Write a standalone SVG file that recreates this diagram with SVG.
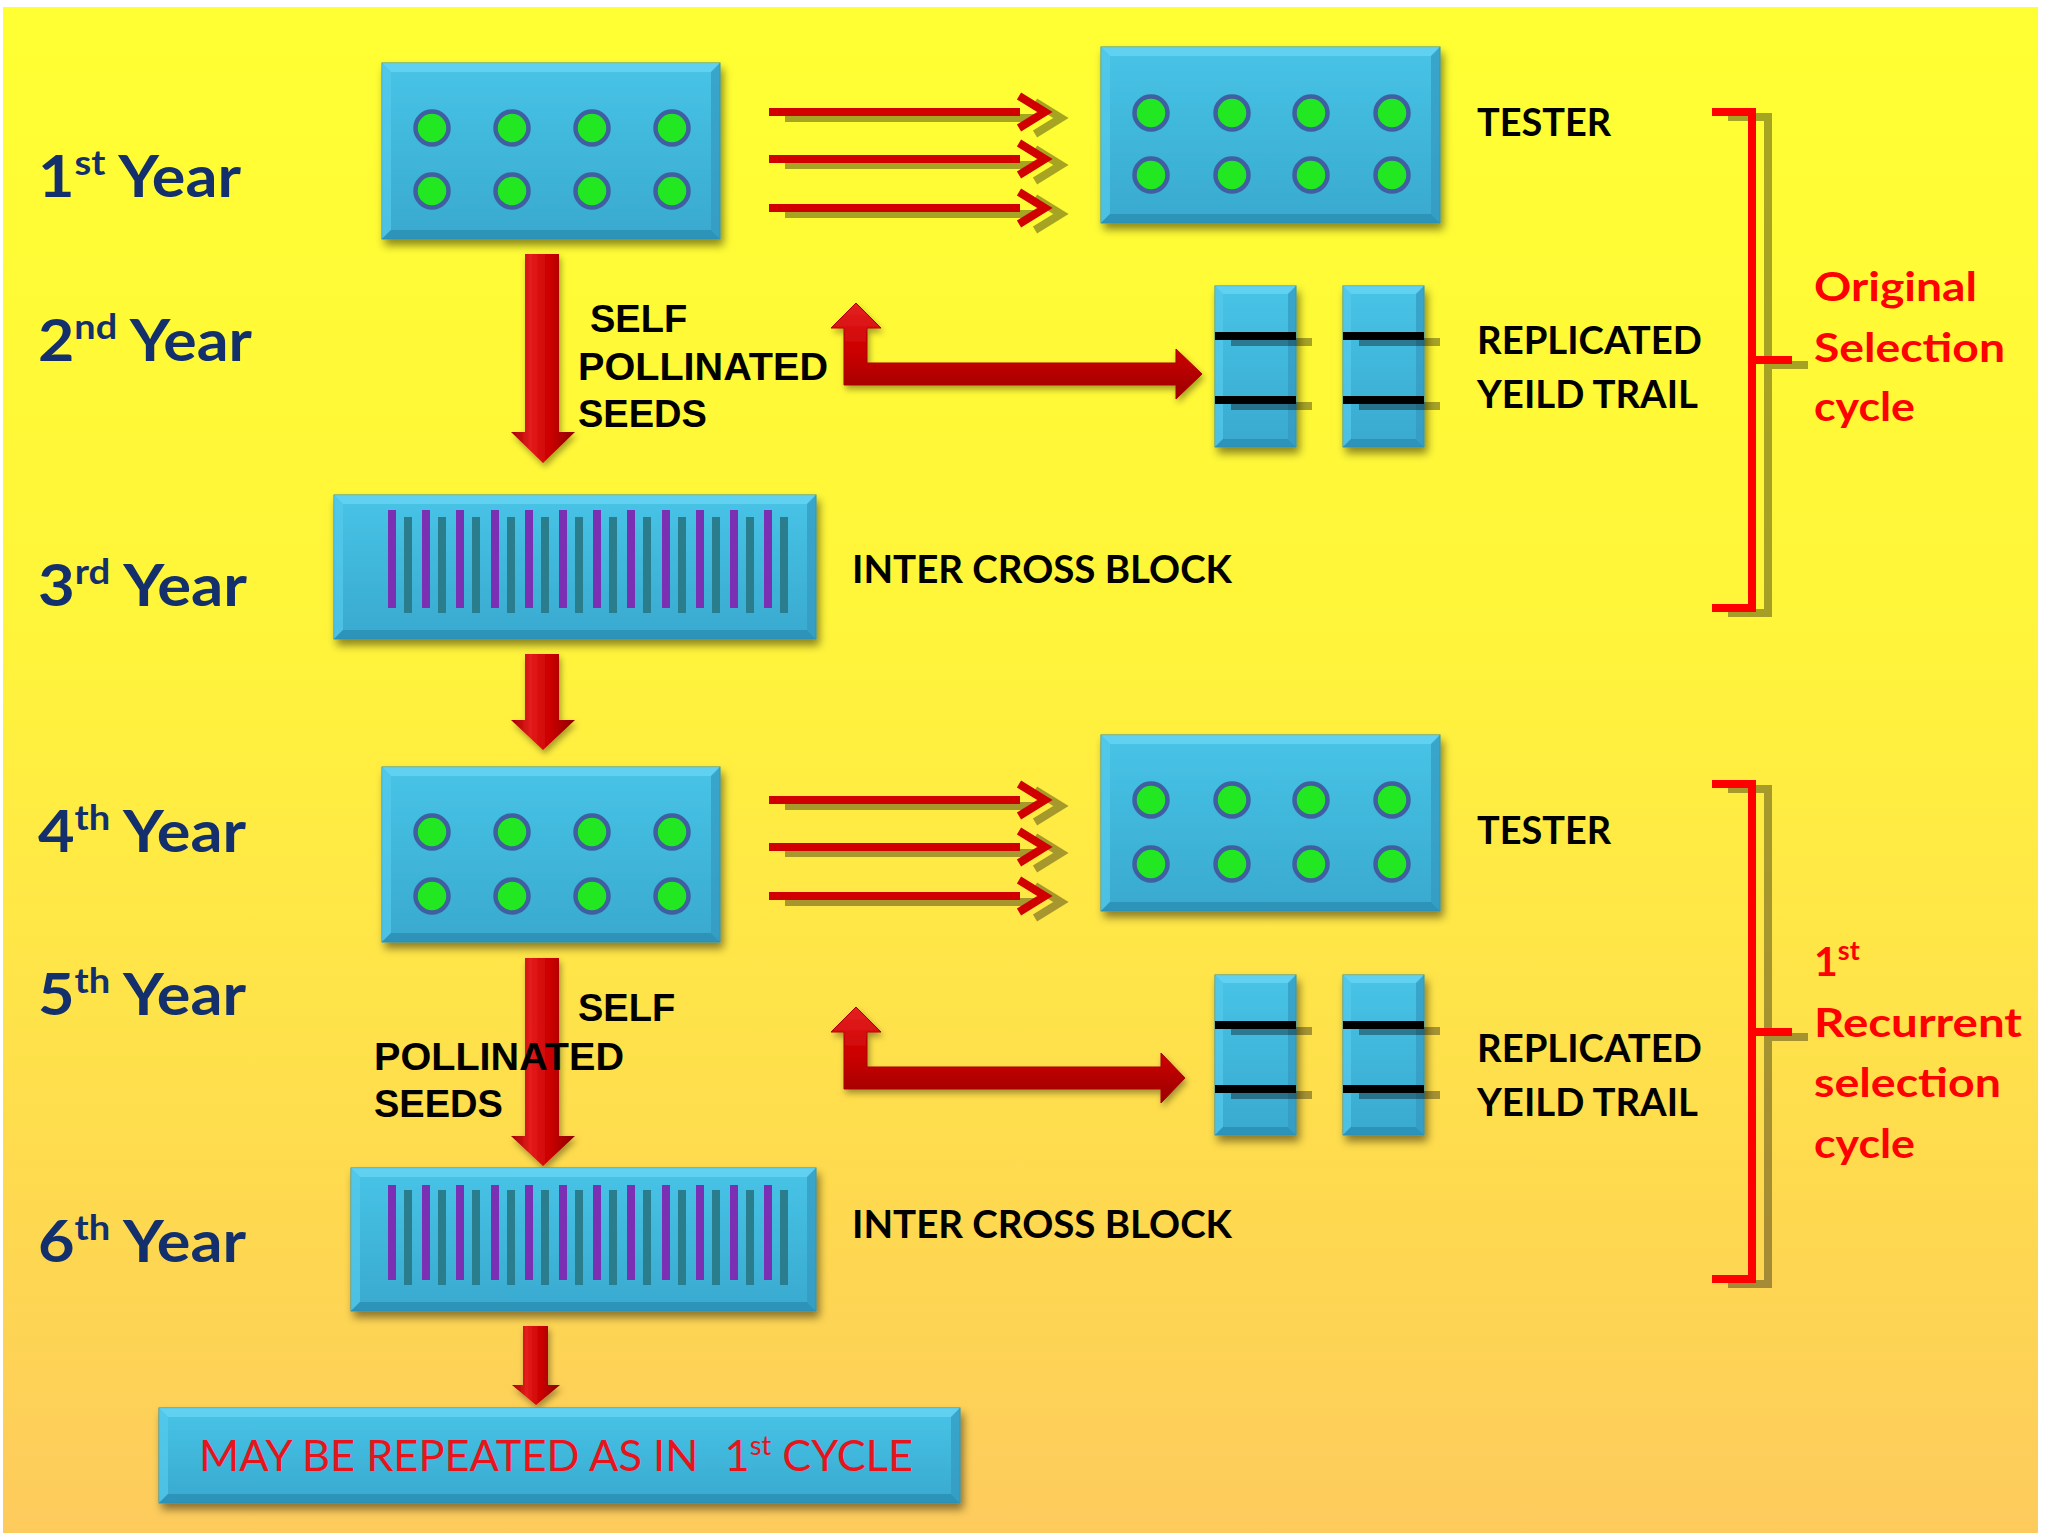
<svg xmlns="http://www.w3.org/2000/svg" width="2048" height="1536" viewBox="0 0 2048 1536">
<defs>
<linearGradient id="bg" x1="0" y1="0" x2="0" y2="1">
<stop offset="0" stop-color="#FFFF33"/>
<stop offset="0.4" stop-color="#FFF53A"/>
<stop offset="0.6" stop-color="#FFE747"/>
<stop offset="0.8" stop-color="#FED850"/>
<stop offset="1" stop-color="#FDCB5D"/>
</linearGradient>
<linearGradient id="face" x1="0" y1="0" x2="0" y2="1">
<stop offset="0" stop-color="#47C4E7"/>
<stop offset="1" stop-color="#39A9CF"/>
</linearGradient>
<linearGradient id="redv" x1="0" y1="0" x2="1" y2="0">
<stop offset="0" stop-color="#A00000"/>
<stop offset="0.3" stop-color="#E41C1C"/>
<stop offset="0.6" stop-color="#CC0000"/>
<stop offset="1" stop-color="#8C0000"/>
</linearGradient>
<linearGradient id="redu" x1="0" y1="0" x2="0" y2="1">
<stop offset="0" stop-color="#E52222"/>
<stop offset="0.5" stop-color="#CC0000"/>
<stop offset="1" stop-color="#9A0000"/>
</linearGradient>
<filter id="sh" x="-10%" y="-10%" width="130%" height="140%">
<feDropShadow dx="3" dy="6" stdDeviation="4" flood-color="#000" flood-opacity="0.45"/>
</filter>
<filter id="ash" x="-20%" y="-20%" width="150%" height="150%">
<feDropShadow dx="2" dy="4" stdDeviation="3" flood-color="#000" flood-opacity="0.35"/>
</filter>
<style>
.face{fill:url(#face);stroke:#2E8DB0;stroke-width:1}
.bt{fill:#66D4F2;opacity:.8}
.bl{fill:#55CAEC;opacity:.7}
.bb{fill:#2C8FB5;opacity:.85}
.br{fill:#3499BF;opacity:.7}
.dot{fill:#22E822;stroke:#3F5FA0;stroke-width:4.5}
.pu{fill:#7B2FB3}
.te{fill:#2A7D8D}
.bk{fill:#000}
.shd{fill:#000;opacity:.35}
.rl{fill:#D00000}
.chev{fill:none;stroke:#D00000;stroke-width:8;stroke-linejoin:miter}
.chevs{fill:none;stroke:#000;stroke-opacity:.35;stroke-width:8}
.arr{fill:url(#redv);filter:url(#ash)}
.uarr{fill:url(#redu);stroke:#A80000;stroke-width:1;filter:url(#ash)}
.brk{fill:none;stroke:#FF0000;stroke-width:8}
.brks{fill:none;stroke:#000;stroke-opacity:.35;stroke-width:8}
.yr{font-family:Lato,"Open Sans","DejaVu Sans",sans-serif;font-weight:bold;font-size:58px;fill:#13306C}
.sup{font-size:35px}
.lbl{font-family:Lato,"Open Sans","DejaVu Sans",sans-serif;font-weight:bold;font-size:38px;fill:#000}
.sp{font-family:"Liberation Sans",Arial,sans-serif;font-weight:bold;font-size:38px;fill:#000}
.red{font-family:Lato,"Open Sans","DejaVu Sans",sans-serif;font-weight:bold;font-size:41px;fill:#FF0000}
.rep{font-family:Lato,"Open Sans","DejaVu Sans",sans-serif;font-size:43px;fill:#E8141C}
</style>
</defs>

<rect x="0" y="0" width="2048" height="1536" fill="#FFFFFF"/>
<rect x="3" y="7" width="2035" height="1526" fill="url(#bg)"/>

<!-- Year labels -->
<g id="year-labels">
<text class="yr" x="38" y="197" textLength="203" lengthAdjust="spacingAndGlyphs">1<tspan class="sup" dy="-22">st</tspan><tspan dy="22"> Year</tspan></text>
<text class="yr" x="38" y="361" textLength="214" lengthAdjust="spacingAndGlyphs">2<tspan class="sup" dy="-22">nd</tspan><tspan dy="22"> Year</tspan></text>
<text class="yr" x="38" y="606" textLength="209" lengthAdjust="spacingAndGlyphs">3<tspan class="sup" dy="-22">rd</tspan><tspan dy="22"> Year</tspan></text>
<text class="yr" x="38" y="852" textLength="208" lengthAdjust="spacingAndGlyphs">4<tspan class="sup" dy="-22">th</tspan><tspan dy="22"> Year</tspan></text>
<text class="yr" x="38" y="1015" textLength="208" lengthAdjust="spacingAndGlyphs">5<tspan class="sup" dy="-22">th</tspan><tspan dy="22"> Year</tspan></text>
<text class="yr" x="38" y="1262" textLength="208" lengthAdjust="spacingAndGlyphs">6<tspan class="sup" dy="-22">th</tspan><tspan dy="22"> Year</tspan></text>
</g>

<!-- Connectors -->
<g id="connectors">
<!-- tester lines set 1 -->
<g transform="translate(16,6)">
<rect class="shd" x="769" y="108" width="251" height="8"/>
<rect class="shd" x="769" y="155" width="251" height="8"/>
<rect class="shd" x="769" y="204" width="251" height="8"/>
<polyline class="chevs" points="1019,96 1045,112 1019,128"/>
<polyline class="chevs" points="1019,143 1045,159 1019,175"/>
<polyline class="chevs" points="1019,192 1045,208 1019,224"/>
</g>
<rect class="rl" x="769" y="108" width="251" height="8"/>
<rect class="rl" x="769" y="155" width="251" height="8"/>
<rect class="rl" x="769" y="204" width="251" height="8"/>
<polyline class="chev" points="1019,96 1045,112 1019,128"/>
<polyline class="chev" points="1019,143 1045,159 1019,175"/>
<polyline class="chev" points="1019,192 1045,208 1019,224"/>

<!-- tester lines set 2 -->
<g transform="translate(16,6)">
<rect class="shd" x="769" y="796" width="251" height="8"/>
<rect class="shd" x="769" y="843" width="251" height="8"/>
<rect class="shd" x="769" y="892" width="251" height="8"/>
<polyline class="chevs" points="1019,784 1045,800 1019,816"/>
<polyline class="chevs" points="1019,831 1045,847 1019,863"/>
<polyline class="chevs" points="1019,880 1045,896 1019,912"/>
</g>
<rect class="rl" x="769" y="796" width="251" height="8"/>
<rect class="rl" x="769" y="843" width="251" height="8"/>
<rect class="rl" x="769" y="892" width="251" height="8"/>
<polyline class="chev" points="1019,784 1045,800 1019,816"/>
<polyline class="chev" points="1019,831 1045,847 1019,863"/>
<polyline class="chev" points="1019,880 1045,896 1019,912"/>

<!-- down arrows -->
<path class="arr" d="M525,254 H559 V432 H575 L543,463 L511,432 H525 Z"/>
<path class="arr" d="M525,654 H559 V720 H575 L543,750 L511,720 H525 Z"/>
<path class="arr" d="M525,958 H559 V1136 H575 L543,1166 L511,1136 H525 Z"/>
<path class="arr" d="M523,1326 H548 V1385 H560 L536,1405 L512,1385 H523 Z"/>

<!-- U-turn arrows -->
<path class="uarr" d="M856,303 L881,328 H867 V363 H1176 V349 L1202,374 L1176,399 V385 H844 V328 H831 Z"/>
<path class="uarr" d="M856,1007 L881,1032 H867 V1067 H1161 V1053 L1185,1078 L1161,1103 V1089 H844 V1032 H831 Z"/>
</g>

<!-- Box 1st year -->
<g id="box-year1">
<rect class="face" x="382" y="63" width="338" height="176" filter="url(#sh)"/>
<polygon class="bt" points="382,63 720,63 711,72 391,72"/>
<polygon class="bl" points="382,63 391,72 391,230 382,239"/>
<polygon class="bb" points="382,239 391,230 711,230 720,239"/>
<polygon class="br" points="720,63 720,239 711,230 711,72"/>
<circle class="dot" cx="432" cy="128" r="16.5"/><circle class="dot" cx="512" cy="128" r="16.5"/>
<circle class="dot" cx="592" cy="128" r="16.5"/><circle class="dot" cx="672" cy="128" r="16.5"/>
<circle class="dot" cx="432" cy="191" r="16.5"/><circle class="dot" cx="512" cy="191" r="16.5"/>
<circle class="dot" cx="592" cy="191" r="16.5"/><circle class="dot" cx="672" cy="191" r="16.5"/>
</g>

<!-- Tester 1 -->
<g id="tester1">
<rect class="face" x="1101" y="47" width="339" height="176" filter="url(#sh)"/>
<polygon class="bt" points="1101,47 1440,47 1431,56 1110,56"/>
<polygon class="bl" points="1101,47 1110,56 1110,214 1101,223"/>
<polygon class="bb" points="1101,223 1110,214 1431,214 1440,223"/>
<polygon class="br" points="1440,47 1440,223 1431,214 1431,56"/>
<circle class="dot" cx="1151" cy="113" r="16.5"/><circle class="dot" cx="1232" cy="113" r="16.5"/>
<circle class="dot" cx="1311" cy="113" r="16.5"/><circle class="dot" cx="1392" cy="113" r="16.5"/>
<circle class="dot" cx="1151" cy="175" r="16.5"/><circle class="dot" cx="1232" cy="175" r="16.5"/>
<circle class="dot" cx="1311" cy="175" r="16.5"/><circle class="dot" cx="1392" cy="175" r="16.5"/>
<text class="lbl" x="1477" y="136" textLength="134" lengthAdjust="spacingAndGlyphs">TESTER</text>
</g>

<!-- Self pollinated label 1 -->
<g id="self-pollinated1">
<text class="sp" x="590" y="332">SELF</text>
<text class="sp" x="578" y="380" textLength="250" lengthAdjust="spacingAndGlyphs">POLLINATED</text>
<text class="sp" x="578" y="427">SEEDS</text>
</g>

<!-- Replicated yield trial 1 -->
<g id="rep-trial1">
<rect class="face" x="1215" y="286" width="81" height="161" filter="url(#sh)"/>
<polygon class="bt" points="1215,286 1296,286 1288,294 1223,294"/>
<polygon class="bl" points="1215,286 1223,294 1223,439 1215,447"/>
<polygon class="bb" points="1215,447 1223,439 1288,439 1296,447"/>
<polygon class="br" points="1296,286 1296,447 1288,439 1288,294"/>
<rect class="face" x="1343" y="286" width="81" height="161" filter="url(#sh)"/>
<polygon class="bt" points="1343,286 1424,286 1416,294 1351,294"/>
<polygon class="bl" points="1343,286 1351,294 1351,439 1343,447"/>
<polygon class="bb" points="1343,447 1351,439 1416,439 1424,447"/>
<polygon class="br" points="1424,286 1424,447 1416,439 1416,294"/>
<rect class="shd" x="1231" y="338" width="81" height="8"/>
<rect class="shd" x="1231" y="402" width="81" height="8"/>
<rect class="shd" x="1359" y="338" width="81" height="8"/>
<rect class="shd" x="1359" y="402" width="81" height="8"/>
<rect class="bk" x="1215" y="332" width="81" height="8"/>
<rect class="bk" x="1215" y="396" width="81" height="8"/>
<rect class="bk" x="1343" y="332" width="81" height="8"/>
<rect class="bk" x="1343" y="396" width="81" height="8"/>
<text class="lbl" x="1477" y="354" textLength="225" lengthAdjust="spacingAndGlyphs">REPLICATED</text>
<text class="lbl" x="1477" y="408" textLength="221" lengthAdjust="spacingAndGlyphs">YEILD TRAIL</text>
</g>

<!-- Inter cross block 1 (3rd year) -->
<g id="intercross1">
<rect class="face" x="334" y="495" width="482" height="144" filter="url(#sh)"/>
<polygon class="bt" points="334,495 816,495 807,504 343,504"/>
<polygon class="bl" points="334,495 343,504 343,630 334,639"/>
<polygon class="bb" points="334,639 343,630 807,630 816,639"/>
<polygon class="br" points="816,495 816,639 807,630 807,504"/>
<g class="pu">
<rect x="388" y="510" width="8" height="98"/><rect x="422" y="510" width="8" height="98"/>
<rect x="456" y="510" width="8" height="98"/><rect x="491" y="510" width="8" height="98"/>
<rect x="525" y="510" width="8" height="98"/><rect x="559" y="510" width="8" height="98"/>
<rect x="593" y="510" width="8" height="98"/><rect x="627" y="510" width="8" height="98"/>
<rect x="662" y="510" width="8" height="98"/><rect x="696" y="510" width="8" height="98"/>
<rect x="730" y="510" width="8" height="98"/><rect x="764" y="510" width="8" height="98"/>
</g>
<g class="te">
<rect x="404" y="517" width="8" height="96"/><rect x="438" y="517" width="8" height="96"/>
<rect x="472" y="517" width="8" height="96"/><rect x="507" y="517" width="8" height="96"/>
<rect x="541" y="517" width="8" height="96"/><rect x="575" y="517" width="8" height="96"/>
<rect x="609" y="517" width="8" height="96"/><rect x="643" y="517" width="8" height="96"/>
<rect x="678" y="517" width="8" height="96"/><rect x="712" y="517" width="8" height="96"/>
<rect x="746" y="517" width="8" height="96"/><rect x="780" y="517" width="8" height="96"/>
</g>
<text class="lbl" x="852" y="583" textLength="380" lengthAdjust="spacingAndGlyphs">INTER CROSS BLOCK</text>
</g>

<!-- Box 4th year -->
<g id="box-year4">
<rect class="face" x="382" y="767" width="338" height="175" filter="url(#sh)"/>
<polygon class="bt" points="382,767 720,767 711,776 391,776"/>
<polygon class="bl" points="382,767 391,776 391,933 382,942"/>
<polygon class="bb" points="382,942 391,933 711,933 720,942"/>
<polygon class="br" points="720,767 720,942 711,933 711,776"/>
<circle class="dot" cx="432" cy="832" r="16.5"/><circle class="dot" cx="512" cy="832" r="16.5"/>
<circle class="dot" cx="592" cy="832" r="16.5"/><circle class="dot" cx="672" cy="832" r="16.5"/>
<circle class="dot" cx="432" cy="896" r="16.5"/><circle class="dot" cx="512" cy="896" r="16.5"/>
<circle class="dot" cx="592" cy="896" r="16.5"/><circle class="dot" cx="672" cy="896" r="16.5"/>
</g>

<!-- Tester 2 -->
<g id="tester2">
<rect class="face" x="1101" y="735" width="339" height="176" filter="url(#sh)"/>
<polygon class="bt" points="1101,735 1440,735 1431,744 1110,744"/>
<polygon class="bl" points="1101,735 1110,744 1110,902 1101,911"/>
<polygon class="bb" points="1101,911 1110,902 1431,902 1440,911"/>
<polygon class="br" points="1440,735 1440,911 1431,902 1431,744"/>
<circle class="dot" cx="1151" cy="800" r="16.5"/><circle class="dot" cx="1232" cy="800" r="16.5"/>
<circle class="dot" cx="1311" cy="800" r="16.5"/><circle class="dot" cx="1392" cy="800" r="16.5"/>
<circle class="dot" cx="1151" cy="864" r="16.5"/><circle class="dot" cx="1232" cy="864" r="16.5"/>
<circle class="dot" cx="1311" cy="864" r="16.5"/><circle class="dot" cx="1392" cy="864" r="16.5"/>
<text class="lbl" x="1477" y="844" textLength="134" lengthAdjust="spacingAndGlyphs">TESTER</text>
</g>

<!-- Self pollinated label 2 -->
<g id="self-pollinated2">
<text class="sp" x="578" y="1021">SELF</text>
<text class="sp" x="374" y="1070" textLength="250" lengthAdjust="spacingAndGlyphs">POLLINATED</text>
<text class="sp" x="374" y="1117">SEEDS</text>
</g>

<!-- Replicated yield trial 2 -->
<g id="rep-trial2">
<rect class="face" x="1215" y="975" width="81" height="160" filter="url(#sh)"/>
<polygon class="bt" points="1215,975 1296,975 1288,983 1223,983"/>
<polygon class="bl" points="1215,975 1223,983 1223,1127 1215,1135"/>
<polygon class="bb" points="1215,1135 1223,1127 1288,1127 1296,1135"/>
<polygon class="br" points="1296,975 1296,1135 1288,1127 1288,983"/>
<rect class="face" x="1343" y="975" width="81" height="160" filter="url(#sh)"/>
<polygon class="bt" points="1343,975 1424,975 1416,983 1351,983"/>
<polygon class="bl" points="1343,975 1351,983 1351,1127 1343,1135"/>
<polygon class="bb" points="1343,1135 1351,1127 1416,1127 1424,1135"/>
<polygon class="br" points="1424,975 1424,1135 1416,1127 1416,983"/>
<rect class="shd" x="1231" y="1027" width="81" height="8"/>
<rect class="shd" x="1231" y="1091" width="81" height="8"/>
<rect class="shd" x="1359" y="1027" width="81" height="8"/>
<rect class="shd" x="1359" y="1091" width="81" height="8"/>
<rect class="bk" x="1215" y="1021" width="81" height="8"/>
<rect class="bk" x="1215" y="1085" width="81" height="8"/>
<rect class="bk" x="1343" y="1021" width="81" height="8"/>
<rect class="bk" x="1343" y="1085" width="81" height="8"/>
<text class="lbl" x="1477" y="1062" textLength="225" lengthAdjust="spacingAndGlyphs">REPLICATED</text>
<text class="lbl" x="1477" y="1116" textLength="221" lengthAdjust="spacingAndGlyphs">YEILD TRAIL</text>
</g>

<!-- Inter cross block 2 (6th year) -->
<g id="intercross2">
<rect class="face" x="351" y="1168" width="465" height="143" filter="url(#sh)"/>
<polygon class="bt" points="351,1168 816,1168 807,1177 360,1177"/>
<polygon class="bl" points="351,1168 360,1177 360,1302 351,1311"/>
<polygon class="bb" points="351,1311 360,1302 807,1302 816,1311"/>
<polygon class="br" points="816,1168 816,1311 807,1302 807,1177"/>
<g class="pu">
<rect x="388" y="1185" width="8" height="95"/><rect x="422" y="1185" width="8" height="95"/>
<rect x="456" y="1185" width="8" height="95"/><rect x="491" y="1185" width="8" height="95"/>
<rect x="525" y="1185" width="8" height="95"/><rect x="559" y="1185" width="8" height="95"/>
<rect x="593" y="1185" width="8" height="95"/><rect x="627" y="1185" width="8" height="95"/>
<rect x="662" y="1185" width="8" height="95"/><rect x="696" y="1185" width="8" height="95"/>
<rect x="730" y="1185" width="8" height="95"/><rect x="764" y="1185" width="8" height="95"/>
</g>
<g class="te">
<rect x="404" y="1190" width="8" height="95"/><rect x="438" y="1190" width="8" height="95"/>
<rect x="472" y="1190" width="8" height="95"/><rect x="507" y="1190" width="8" height="95"/>
<rect x="541" y="1190" width="8" height="95"/><rect x="575" y="1190" width="8" height="95"/>
<rect x="609" y="1190" width="8" height="95"/><rect x="643" y="1190" width="8" height="95"/>
<rect x="678" y="1190" width="8" height="95"/><rect x="712" y="1190" width="8" height="95"/>
<rect x="746" y="1190" width="8" height="95"/><rect x="780" y="1190" width="8" height="95"/>
</g>
<text class="lbl" x="852" y="1238" textLength="380" lengthAdjust="spacingAndGlyphs">INTER CROSS BLOCK</text>
</g>

<!-- Final box -->
<g id="repeat-box">
<rect class="face" x="159" y="1408" width="801" height="95" filter="url(#sh)"/>
<polygon class="bt" points="159,1408 960,1408 951,1417 168,1417"/>
<polygon class="bl" points="159,1408 168,1417 168,1494 159,1503"/>
<polygon class="bb" points="159,1503 168,1494 951,1494 960,1503"/>
<polygon class="br" points="960,1408 960,1503 951,1494 951,1417"/>
<text class="rep" x="199" y="1471" textLength="714" lengthAdjust="spacingAndGlyphs">MAY BE REPEATED AS IN<tspan dx="26">1</tspan><tspan font-size="27" dy="-16">st</tspan><tspan dy="16"> CYCLE</tspan></text>
</g>

<!-- Bracket 1 -->
<g id="bracket-original">
<path class="brks" transform="translate(16,5)" d="M1712,112 H1752 V608 H1712 M1752,360 H1792"/>
<path class="brk" d="M1712,112 H1752 V608 H1712 M1752,360 H1792"/>
<text class="red" x="1814" y="301" textLength="163" lengthAdjust="spacingAndGlyphs">Original</text>
<text class="red" x="1814" y="362" textLength="191" lengthAdjust="spacingAndGlyphs">Selection</text>
<text class="red" x="1814" y="421" textLength="101" lengthAdjust="spacingAndGlyphs">cycle</text>
</g>

<!-- Bracket 2 -->
<g id="bracket-recurrent">
<path class="brks" transform="translate(16,5)" d="M1712,784 H1752 V1279 H1712 M1752,1032 H1792"/>
<path class="brk" d="M1712,784 H1752 V1279 H1712 M1752,1032 H1792"/>
<text class="red" x="1814" y="976">1<tspan font-size="27" dy="-16">st</tspan></text>
<text class="red" x="1814" y="1037" textLength="208" lengthAdjust="spacingAndGlyphs">Recurrent</text>
<text class="red" x="1814" y="1097" textLength="187" lengthAdjust="spacingAndGlyphs">selection</text>
<text class="red" x="1814" y="1158" textLength="101" lengthAdjust="spacingAndGlyphs">cycle</text>
</g>
</svg>
